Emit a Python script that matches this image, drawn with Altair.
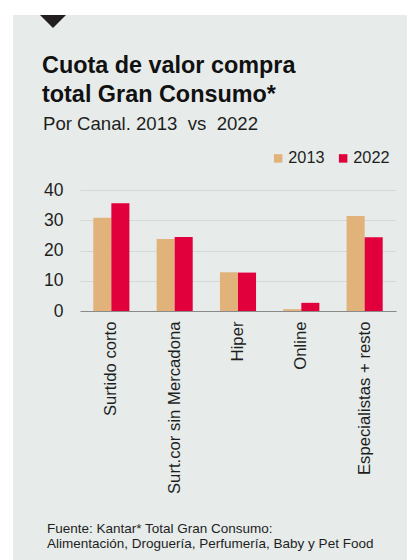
import altair as alt
import pandas as pd

categories = ["Surtido corto", "Surt.cor sin Mercadona", "Hiper", "Online", "Especialistas + resto"]
years = ["2013", "2022"]
values_2013 = [30.8, 23.8, 12.8, 0.6, 31.4]
values_2022 = [35.6, 24.5, 12.7, 2.7, 24.4]
y_ticks = [0, 10, 20, 30, 40]

rows = []
for c, a, b in zip(categories, values_2013, values_2022):
    rows.append({"canal": c, "year": "2013", "value": a})
    rows.append({"canal": c, "year": "2022", "value": b})
df = pd.DataFrame(rows)

FONT = "Liberation Sans"
BG = "#e7ecea"
TXT = "#1e1e1e"

W, H = 316, 121
PL, PT = 80, 190

bars = alt.Chart(df).mark_bar().encode(
    x=alt.X("canal:N", sort=categories, title=None,
            scale=alt.Scale(paddingInner=0.43, paddingOuter=0.21),
            axis=alt.Axis(labelAngle=-90, labelFontSize=16.7, labelColor=TXT, labelFont=FONT,
                          labelPadding=10, ticks=False, domain=True, domainColor="#8a8a8a",
                          domainWidth=1.2, labelLimit=300,
                          labelAlign="right", labelBaseline="middle")),
    xOffset=alt.XOffset("year:N", sort=years),
    y=alt.Y("value:Q", title=None,
            scale=alt.Scale(domain=[0, 40], nice=False),
            axis=alt.Axis(values=y_ticks, labelOverlap=False, labelFontSize=17.5,
                          labelColor=TXT, labelFont=FONT,
                          labelPadding=17, ticks=False, domain=False, grid=True,
                          gridColor="#d3d8d8", gridWidth=1)),
    color=alt.Color("year:N", sort=years,
                    scale=alt.Scale(domain=years, range=["#e2b27b", "#e1003c"]),
                    legend=alt.Legend(title=None, orient="none", direction="horizontal",
                                      legendX=190, legendY=-40, padding=0, symbolType="square",
                                      symbolSize=72, symbolStrokeWidth=0, symbolOpacity=1,
                                      labelFontSize=16.3, labelColor=TXT, labelFont=FONT,
                                      labelOffset=2, columnPadding=10)),
)

# white strips outside the grey panel
strip_left = alt.Chart(pd.DataFrame({"k": [0]})).mark_rect(color="white").encode(
    x=alt.value(-PL), x2=alt.value(13 - PL), y=alt.value(-PT), y2=alt.value(560 - PT)
)
strip_top = alt.Chart(pd.DataFrame({"k": [0]})).mark_rect(color="white").encode(
    x=alt.value(-PL), x2=alt.value(407 - PL), y=alt.value(-PT), y2=alt.value(15 - PT)
)
tri = alt.Chart(pd.DataFrame({"k": [0]})).mark_point(
    shape="M-1,-0.5L1,-0.5L0,0.5Z", filled=True, color="#231f20", opacity=1, size=676
).encode(x=alt.value(53 - PL), y=alt.value(21.5 - PT))

title_lines = ["Cuota de valor compra", "total Gran Consumo*"]
subtitle = "Por Canal. 2013\u00a0 vs\u00a0 2022"
footer_lines = ["Fuente: Kantar* Total Gran Consumo:",
                "Alimentación, Droguería, Perfumería, Baby y Pet Food"]

def txt(s, x, y, size, weight="normal", color=TXT):
    return alt.Chart(pd.DataFrame({"t": [s]})).mark_text(
        align="left", baseline="alphabetic", font=FONT, fontSize=size, fontWeight=weight, color=color
    ).encode(text="t:N", x=alt.value(x - PL), y=alt.value(y - PT))

t1 = txt(title_lines[0], 42, 73, 23.4, "bold", "#111")
t2 = txt(title_lines[1], 42, 102, 23.4, "bold", "#111")
t3 = txt(subtitle, 43, 130, 18.6)
f1 = txt(footer_lines[0], 47, 533, 13.5)
f2 = txt(footer_lines[1], 47, 548, 13.5)

chart = alt.layer(strip_left, strip_top, tri, bars, t1, t2, t3, f1, f2).properties(
    width=W, height=H,
    autosize=alt.AutoSizeParams(type="none"),
    padding={"left": PL, "top": PT, "right": 407 - PL - W, "bottom": 560 - PT - H},
    background=BG,
).configure_view(stroke=None).configure_axis(labelFont=FONT)

chart.save("out.html", embed_options={"renderer": "svg", "actions": False})
